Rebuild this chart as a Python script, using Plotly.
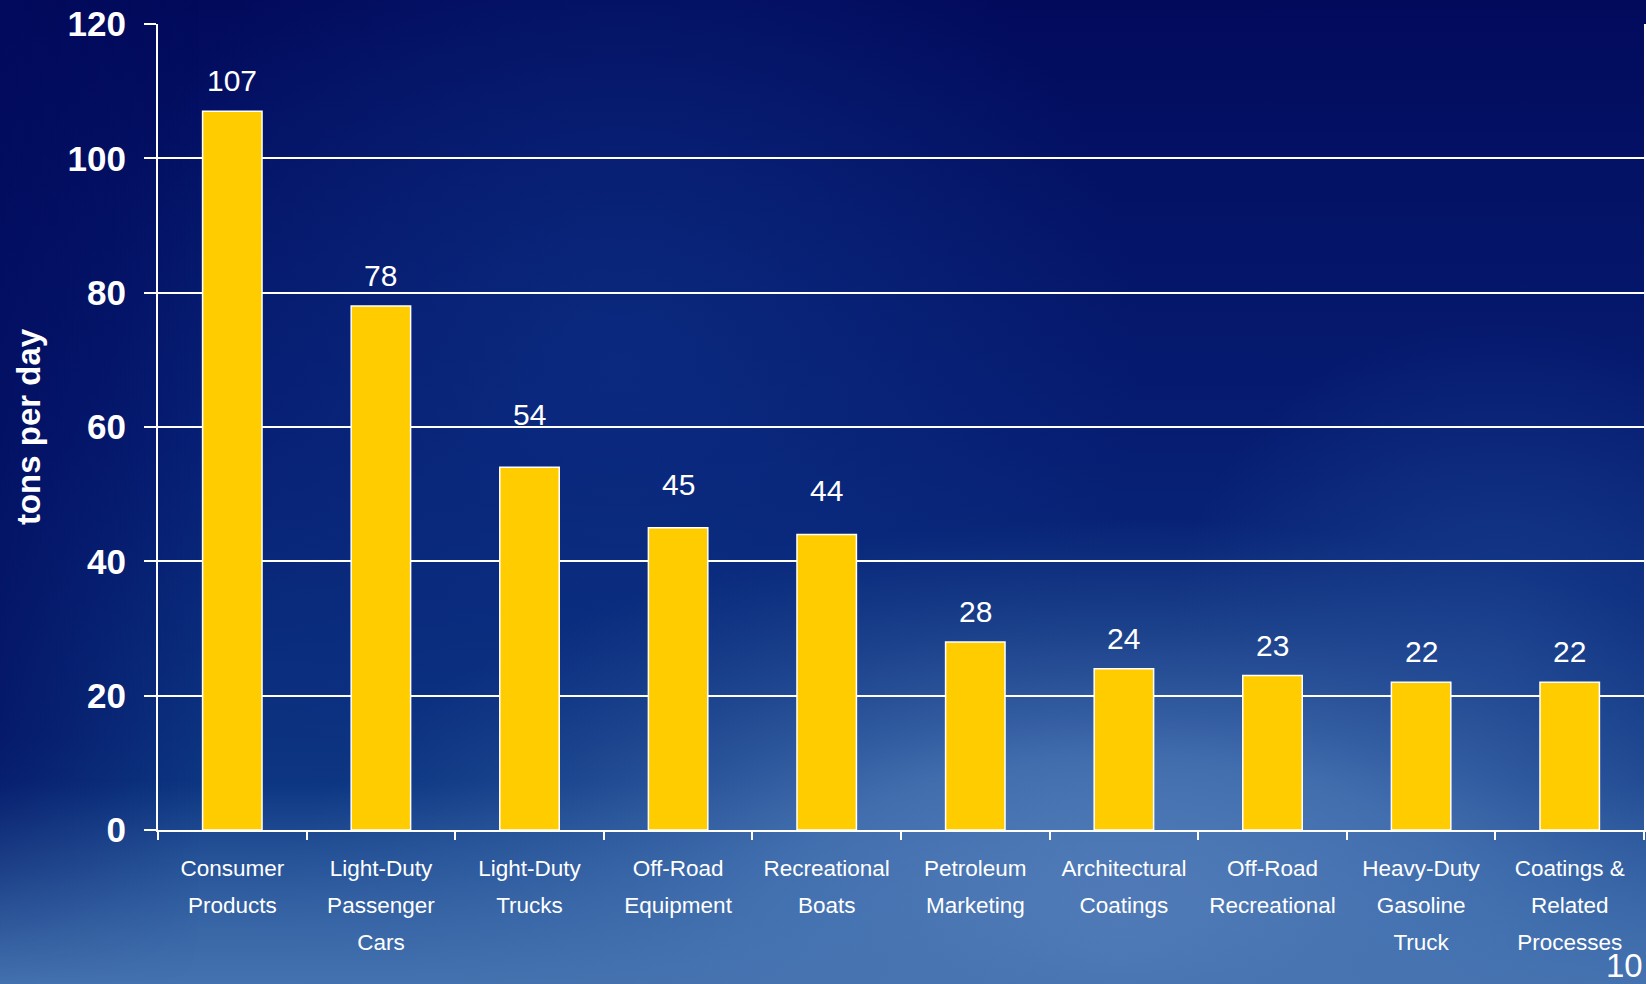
import base64
import plotly.graph_objects as go

# Daily emissions by source category
categories = [
    "Consumer<br>Products",
    "Light-Duty<br>Passenger<br>Cars",
    "Light-Duty<br>Trucks",
    "Off-Road<br>Equipment",
    "Recreational<br>Boats",
    "Petroleum<br>Marketing",
    "Architectural<br>Coatings",
    "Off-Road<br>Recreational",
    "Heavy-Duty<br>Gasoline<br>Truck",
    "Coatings &<br>Related<br>Processes",
]
tons_per_day = [107, 78, 54, 45, 44, 28, 24, 23, 22, 22]
y_ticks = [0, 20, 40, 60, 80, 100, 120]

# Extra lift (px) for value labels that would otherwise sit on a gridline
label_lift = [0, 0, 22, 13, 13, 0, 0, 0, 0, 0]

W, H = 1646, 984
ML, MR, MT, MB = 158, 2, 24, 154
PW, PH = W - ML - MR, H - MT - MB

# Category labels: small glyphs on a roomier line pitch
tick_text = [
    "<br>".join(f"<span style='font-size:22.5px'>{part}</span>" for part in c.split("<br>"))
    for c in categories
]

# Slide-style blue backdrop as an inline SVG
svg = f"""<svg xmlns='http://www.w3.org/2000/svg' width='{W}' height='{H}' viewBox='0 0 {W} {H}' preserveAspectRatio='none'>
<defs>
<linearGradient id='base' x1='0' y1='0' x2='0' y2='1'>
  <stop offset='0' stop-color='#020a5c'/>
  <stop offset='0.45' stop-color='#061d72'/>
  <stop offset='0.8' stop-color='#0d3682'/>
  <stop offset='1' stop-color='#3262a2'/>
</linearGradient>
<radialGradient id='mid' cx='620' cy='360' r='520' gradientUnits='userSpaceOnUse'>
  <stop offset='0' stop-color='#0d3388' stop-opacity='0.65'/>
  <stop offset='1' stop-color='#0d3388' stop-opacity='0'/>
</radialGradient>
<radialGradient id='glow' cx='1120' cy='960' r='690' gradientUnits='userSpaceOnUse'
   gradientTransform='translate(1120 960) scale(1.25 0.64) translate(-1120 -960)'>
  <stop offset='0' stop-color='#6d93cb' stop-opacity='1'/>
  <stop offset='0.45' stop-color='#4c78b6' stop-opacity='0.85'/>
  <stop offset='1' stop-color='#2a5699' stop-opacity='0'/>
</radialGradient>
<radialGradient id='right' cx='1500' cy='650' r='330' gradientUnits='userSpaceOnUse'>
  <stop offset='0' stop-color='#1a3f8e' stop-opacity='0.8'/>
  <stop offset='1' stop-color='#1a3f8e' stop-opacity='0'/>
</radialGradient>
<linearGradient id='leftdark' x1='0' y1='0' x2='1' y2='0'>
  <stop offset='0' stop-color='#020a5c' stop-opacity='0.6'/>
  <stop offset='1' stop-color='#020a5c' stop-opacity='0'/>
</linearGradient>
<linearGradient id='leftfade' x1='0' y1='0' x2='0' y2='1'>
  <stop offset='0' stop-color='white' stop-opacity='1'/>
  <stop offset='0.75' stop-color='white' stop-opacity='1'/>
  <stop offset='1' stop-color='white' stop-opacity='0'/>
</linearGradient>
<mask id='lm'><rect width='200' height='{H}' fill='url(#leftfade)'/></mask>
<linearGradient id='bottom' x1='0' y1='0' x2='0' y2='1'>
  <stop offset='0' stop-color='#3464a6' stop-opacity='0'/>
  <stop offset='1' stop-color='#4673b0' stop-opacity='0.9'/>
</linearGradient>
</defs>
<rect width='{W}' height='{H}' fill='url(#base)'/>
<rect width='{W}' height='{H}' fill='url(#mid)'/>
<rect width='{W}' height='{H}' fill='url(#right)'/>
<rect width='{W}' height='{H}' fill='url(#glow)'/>
<rect y='780' width='{W}' height='204' fill='url(#bottom)'/>
<rect width='200' height='{H}' fill='url(#leftdark)' mask='url(#lm)'/>
</svg>"""
bg_src = "data:image/svg+xml;base64," + base64.b64encode(svg.encode()).decode()

fig = go.Figure()
fig.add_trace(go.Bar(
    x=categories,
    y=tons_per_day,
    width=0.4,
    marker=dict(color="#FFCC00", line=dict(color="white", width=1.5)),
    hoverinfo="skip",
))

# Value labels above each bar
for c, v, lift in zip(categories, tons_per_day, label_lift):
    fig.add_annotation(
        x=c, y=v, text=str(v), showarrow=False,
        yanchor="bottom", yshift=12 + lift,
        font=dict(family="Liberation Sans, Arial, sans-serif", size=30, color="white"),
    )

# Slide page number
fig.add_annotation(
    xref="paper", yref="paper",
    x=(1645 - ML) / PW, y=(MT + PH - 986) / PH,
    xanchor="right", yanchor="bottom",
    text="10", showarrow=False,
    font=dict(family="Liberation Sans, Arial, sans-serif", size=33, color="white"),
)

fig.update_layout(
    width=W, height=H,
    margin=dict(l=ML, r=MR, t=MT, b=MB, pad=0),
    paper_bgcolor="#061a6c",
    plot_bgcolor="rgba(0,0,0,0)",
    showlegend=False,
    images=[dict(
        source=bg_src, xref="paper", yref="paper",
        x=-ML / PW, y=1 + MT / PH,
        sizex=W / PW, sizey=H / PH,
        xanchor="left", yanchor="top",
        sizing="stretch", layer="below",
    )],
    xaxis=dict(
        type="category",
        tickmode="array",
        tickvals=categories,
        ticktext=tick_text,
        tickson="boundaries",
        tickangle=0,
        automargin=False,
        ticks="outside", ticklen=8, tickwidth=1.5, tickcolor="white",
        showline=True, linecolor="white", linewidth=2,
        showgrid=False, zeroline=False,
        ticklabelstandoff=10,
        tickfont=dict(family="Liberation Sans, Arial, sans-serif", size=28.5, color="white"),
        fixedrange=True,
    ),
    yaxis=dict(
        range=[0, 120],
        tickmode="array",
        tickvals=y_ticks,
        automargin=False,
        ticks="outside", ticklen=12, tickwidth=1.5, tickcolor="white",
        showline=True, linecolor="white", linewidth=2, mirror=True,
        showgrid=True, gridcolor="white", gridwidth=1.5,
        zeroline=False,
        ticklabelstandoff=11,
        tickfont=dict(family="Liberation Sans, Arial, sans-serif", size=35, color="white",
                      weight="bold"),
        title=dict(text="tons per day", standoff=17,
                   font=dict(family="Liberation Sans, Arial, sans-serif", size=33,
                             color="white", weight="bold")),
        fixedrange=True,
    ),
)

fig.write_html("out.html")
